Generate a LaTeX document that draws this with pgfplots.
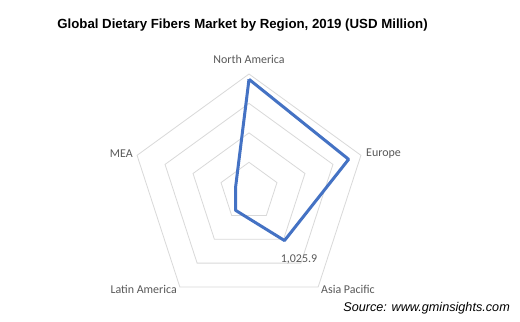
\documentclass[border=0pt]{standalone}
\usepackage{pgfplots}
\pgfplotsset{compat=1.18}
\usepgfplotslibrary{polar}
\usepackage{fontspec}
\setmainfont{Liberation Sans}
\newfontfamily\calfont{Carlito}
\definecolor{gridc}{HTML}{D9D9D9}
\definecolor{lbl}{HTML}{595959}
\definecolor{ser}{HTML}{4472C4}
\begin{document}
\begin{tikzpicture}
\fill[white] (0bp,0bp) rectangle (520bp,322bp);
\begin{polaraxis}[at={(249bp,130.3bp)}, anchor=origin, scale only axis,
  width=235.4bp, height=235.4bp, hide axis, ymin=0, ymax=2000, xmin=0, xmax=360, clip=false]
\addplot[gridc, line width=0.8bp] coordinates {(90,500) (18,500) (306,500) (234,500) (162,500) (90,500)};
\addplot[gridc, line width=0.8bp] coordinates {(90,1000) (18,1000) (306,1000) (234,1000) (162,1000) (90,1000)};
\addplot[gridc, line width=0.8bp] coordinates {(90,1500) (18,1500) (306,1500) (234,1500) (162,1500) (90,1500)};
\addplot[gridc, line width=0.8bp] coordinates {(90,2000) (18,2000) (306,2000) (234,2000) (162,2000) (90,2000)};
\addplot[ser, line width=3bp, line join=round] coordinates {(90,1910) (18,1780) (306,1025.9) (234,390) (162,240) (90,1910)};
\end{polaraxis}
\node[font=\bfseries\fontsize{13.3}{16}\selectfont, inner sep=0pt] at (242.5bp,297bp) {Global Dietary Fibers Market by Region, 2019 (USD Million)};
\begin{scope}[every node/.style={font=\calfont\fontsize{12}{14}\selectfont, text=lbl, inner sep=0pt}]
\node at (249bp,263bp) {North America};
\node[anchor=west] at (366bp,168bp) {Europe};
\node[anchor=east] at (133bp,168bp) {MEA};
\node[anchor=west] at (321bp,33bp) {Asia Pacific};
\node[anchor=east] at (177bp,33bp) {Latin America};
\node at (299bp,63bp) {1,025.9};
\end{scope}
\node[font=\itshape\fontsize{12.7}{15}\selectfont, anchor=east, inner sep=0pt] at (510bp,14bp) {Source: www.gminsights.com};
\end{tikzpicture}
\end{document}
